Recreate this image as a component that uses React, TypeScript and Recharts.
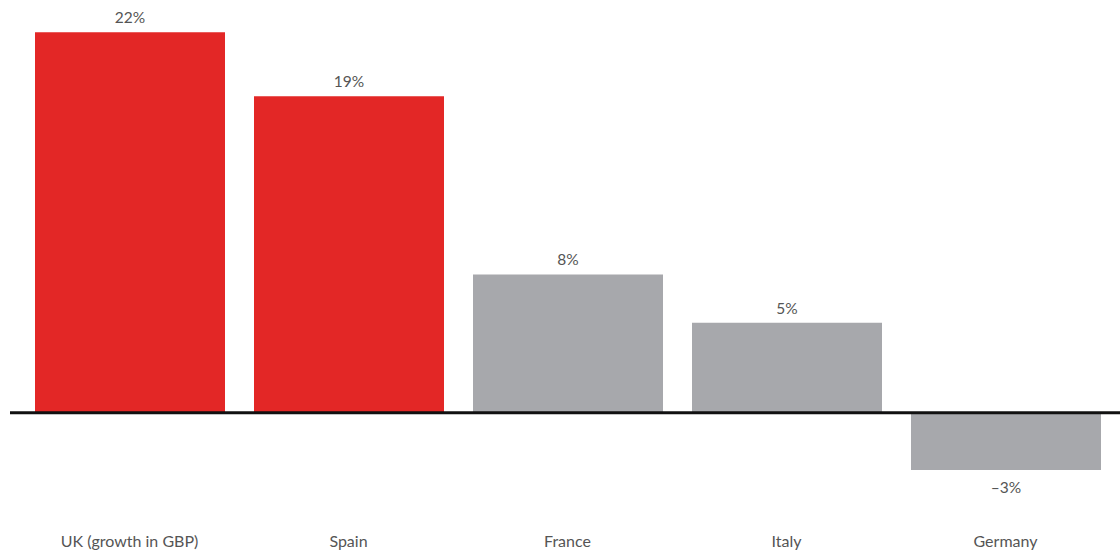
import React from 'react';
import { BarChart, Bar, XAxis, YAxis, ReferenceLine, LabelList, Cell } from 'recharts';

const countries = ['UK (growth in GBP)', 'Spain', 'France', 'Italy', 'Germany'];
const growth = [22, 18.3, 8, 5.2, -3.3];
const growthLabels = ['22%', '19%', '8%', '5%', '–3%'];
const highlighted = [true, true, false, false, false];

const RED = '#e32726';
const GREY = '#a7a8ac';
const FONT = 'Lato, "Open Sans", sans-serif';

const chartData = countries.map((name, i) => ({
    name,
    value: growth[i],
    label: growthLabels[i],
    hot: highlighted[i],
}));

// label sits above a positive bar, below a negative one
const ValueLabel = (props: any) => {
    const { x, y, width, value, index } = props;
    const dy = value >= 0 ? -9 : 23;
    return (
        <text x={x + width / 2} y={y + dy} textAnchor="middle" fill="#555" fontSize={15.5} fontFamily={FONT}>
            {growthLabels[index]}
        </text>
    );
};

const App: React.FC = () => {
    return (
        <div style={{ position: 'absolute', left: 0, top: 0, background: '#fff' }}>
            <BarChart width={1120} height={554} data={chartData} margin={{ top: 15, right: 0, left: 10, bottom: 0 }}>
                <XAxis
                    dataKey="name"
                    height={72}
                    axisLine={false}
                    tickLine={false}
                    tickSize={0}
                    tickMargin={54}
                    padding={{ left: 10, right: 5 }}
                    interval={0}
                    tick={{ fill: '#555', fontSize: 16, fontFamily: FONT }}
                />
                <YAxis hide domain={[-4, 23]} />
                <Bar dataKey="value" barSize={190} isAnimationActive={false}>
                    {chartData.map((d, i) => (
                        <Cell key={i} fill={d.hot ? RED : GREY} />
                    ))}
                    <LabelList dataKey="value" content={<ValueLabel />} />
                </Bar>
                <ReferenceLine y={0} stroke="#111" strokeWidth={3} />
            </BarChart>
        </div>
    );
};

export default App;
